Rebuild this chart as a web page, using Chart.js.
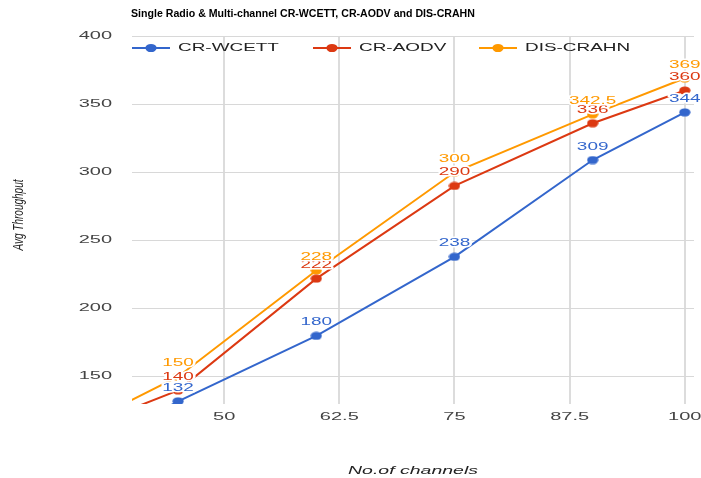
<!DOCTYPE html>
<html>
<head>
<meta charset="utf-8">
<script src="https://cdn.jsdelivr.net/npm/chart.js@4/dist/chart.umd.min.js"></script>
<style>
  html, body { margin: 0; padding: 0; background: #fff; }
  canvas { display: block; }
</style>
</head>
<body>
<canvas id="c" width="701" height="478"></canvas>
<script>
// ---- data ----
const chartTitle = 'Single Radio & Multi-channel CR-WCETT, CR-AODV and DIS-CRAHN';
const xAxisTitle = 'No.of channels';
const yAxisTitle = 'Avg Throughput';
const seriesNames = ['CR-WCETT', 'CR-AODV', 'DIS-CRAHN'];
const xValues = [30, 45, 60, 75, 90, 100];
const crWcett = [76, 132, 180, 238, 309, 344];
const crAodv = [100, 140, 222, 290, 336, 360];
const disCrahn = [99, 150, 228, 300, 342.5, 369];
const xTicks = [50, 62.5, 75, 87.5, 100];
const xTickLabels = ['50', '62.5', '75', '87.5', '100'];
const yTicks = [150, 200, 250, 300, 350, 400];
const yTickLabels = ['150', '200', '250', '300', '350', '400'];

const colors = ['#3366CC', '#DC3912', '#FF9900'];
const seriesValues = [crWcett, crAodv, disCrahn];

function ellipseCanvas(color) {
  const cv = document.createElement('canvas');
  cv.width = 12; cv.height = 9;
  const g = cv.getContext('2d');
  g.fillStyle = color;
  g.beginPath();
  g.ellipse(6, 4.5, 5.6, 4.1, 0, 0, Math.PI * 2);
  g.fill();
  return cv;
}

function stretchedText(ctx, s, x, y, o) {
  ctx.save();
  ctx.font = o.font;
  const w = ctx.measureText(s).width * o.sx;
  let x0 = x;
  if (o.align === 'center') x0 = x - w / 2;
  else if (o.align === 'right') x0 = x - w;
  ctx.translate(x0, y);
  ctx.scale(o.sx, 1);
  ctx.textAlign = 'left';
  ctx.textBaseline = o.baseline || 'middle';
  if (o.halo) {
    ctx.strokeStyle = '#fff';
    ctx.lineWidth = 3;
    ctx.lineJoin = 'round';
    ctx.strokeText(s, 0, 0);
  }
  ctx.fillStyle = o.color;
  ctx.fillText(s, 0, 0);
  ctx.restore();
}

const textPlugin = {
  id: 'textPlugin',
  afterDatasetsDraw(chart) {
    const ctx = chart.ctx;
    const xs = chart.scales.x, ys = chart.scales.y;
    // point labels
    chart.data.datasets.forEach((ds, di) => {
      ds.data.forEach(p => {
        if (p.x < xs.min || p.x > xs.max || p.y < ys.min || p.y > ys.max) return;
        const px = xs.getPixelForValue(p.x);
        const py = ys.getPixelForValue(p.y);
        stretchedText(ctx, String(p.y), px, py - 13.5, {
          font: '11px "Liberation Sans", Arial, sans-serif', sx: 1.72,
          align: 'center', color: colors[di], halo: true
        });
      });
    });
  },
  afterDraw(chart) {
    const ctx = chart.ctx;
    const area = chart.chartArea;
    const xs = chart.scales.x, ys = chart.scales.y;
    // title
    stretchedText(ctx, chartTitle, 131, 17, {
      font: 'bold 10px "Liberation Sans", Arial, sans-serif', sx: 1.06,
      align: 'left', baseline: 'alphabetic', color: '#000'
    });
    // y tick labels
    yTicks.forEach((v, i) => {
      stretchedText(ctx, yTickLabels[i], area.left - 20, ys.getPixelForValue(v), {
        font: '10px "Liberation Sans", Arial, sans-serif', sx: 2.0,
        align: 'right', color: '#444'
      });
    });
    // x tick labels
    xTicks.forEach((v, i) => {
      stretchedText(ctx, xTickLabels[i], xs.getPixelForValue(v), area.bottom + 13, {
        font: '10px "Liberation Sans", Arial, sans-serif', sx: 2.0,
        align: 'center', color: '#444'
      });
    });
    // x axis title
    stretchedText(ctx, xAxisTitle, (area.left + area.right) / 2, 474, {
      font: 'italic 11px "Liberation Sans", Arial, sans-serif', sx: 1.77,
      align: 'center', baseline: 'alphabetic', color: '#222'
    });
    // y axis title (rotated)
    ctx.save();
    ctx.translate(18.5, 215);
    ctx.scale(1.45, 1);
    ctx.rotate(-Math.PI / 2);
    ctx.font = 'italic 10px "Liberation Sans", Arial, sans-serif';
    ctx.textAlign = 'center';
    ctx.textBaseline = 'middle';
    ctx.fillStyle = '#222';
    ctx.fillText(yAxisTitle, 0, 0);
    ctx.restore();
    // legend
    const legendX = [132, 313, 479];
    const ly = 48;
    seriesNames.forEach((name, i) => {
      const x0 = legendX[i];
      ctx.save();
      ctx.strokeStyle = colors[i];
      ctx.lineWidth = 2;
      ctx.beginPath();
      ctx.moveTo(x0, ly);
      ctx.lineTo(x0 + 38, ly);
      ctx.stroke();
      ctx.fillStyle = colors[i];
      ctx.beginPath();
      ctx.ellipse(x0 + 19, ly, 5.6, 4.1, 0, 0, Math.PI * 2);
      ctx.fill();
      ctx.restore();
      stretchedText(ctx, name, x0 + 46, ly, {
        font: '11px "Liberation Sans", Arial, sans-serif', sx: 1.72,
        align: 'left', color: '#222'
      });
    });
  }
};

const datasets = seriesNames.map((name, i) => ({
  label: name,
  data: xValues.map((x, j) => ({ x: x, y: seriesValues[i][j] })),
  borderColor: colors[i],
  backgroundColor: colors[i],
  borderWidth: 2,
  pointStyle: ellipseCanvas(colors[i]),
  pointRadius: 5,
  tension: 0,
  clip: 0
}));

new Chart(document.getElementById('c'), {
  type: 'line',
  data: { datasets },
  options: {
    responsive: false,
    animation: false,
    events: [],
    layout: { padding: { left: 92, right: 7, top: 36, bottom: 34 } },
    plugins: { legend: { display: false }, tooltip: { enabled: false }, title: { display: false } },
    scales: {
      x: {
        type: 'linear', min: 40, max: 101,
        afterBuildTicks: s => { s.ticks = xTicks.map(v => ({ value: v })); },
        afterFit: s => { s.height = 40; },
        ticks: { display: false },
        grid: { color: '#dcdcdc', lineWidth: 2, drawTicks: false },
        border: { display: false }
      },
      y: {
        type: 'linear', min: 130, max: 400,
        afterBuildTicks: s => { s.ticks = yTicks.map(v => ({ value: v })); },
        afterFit: s => { s.width = 40; },
        ticks: { display: false },
        grid: { color: '#d8d8d8', lineWidth: 1, drawTicks: false },
        border: { display: false }
      }
    }
  },
  plugins: [textPlugin]
});
</script>
</body>
</html>
